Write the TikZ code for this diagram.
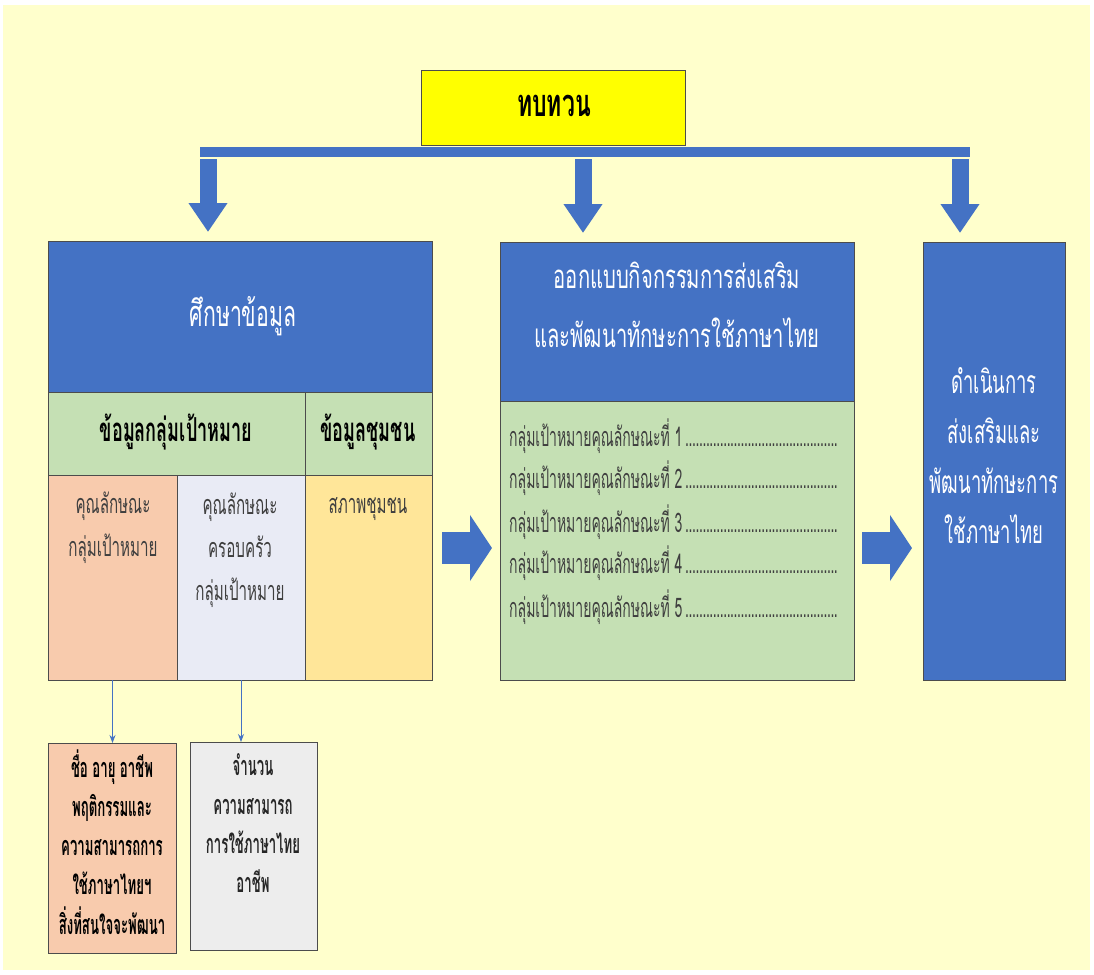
\documentclass[tikz,border=0pt]{standalone}
\usepackage{fontspec}
\usepackage{graphicx}
\setmainfont{Loma}[Script=Thai,FakeStretch=0.72]
\usetikzlibrary{arrows.meta,calc}
\definecolor{bg}{HTML}{FFFFCC}
\definecolor{ylw}{HTML}{FFFF00}
\definecolor{blu}{HTML}{4472C4}
\definecolor{grn}{HTML}{C5E0B4}
\definecolor{pch}{HTML}{F8CBAD}
\definecolor{lav}{HTML}{E9EBF5}
\definecolor{org}{HTML}{FFE699}
\definecolor{gry}{HTML}{EDEDED}
\definecolor{txtg}{HTML}{3F3F3F}
\newcommand\mydots{\leaders\hbox to 4.8pt{\hss.\hss}\hfill}
\newcommand\fs[2]{\fontsize{#1}{#2}\selectfont}
\newcommand\sq[2]{\scalebox{#1}[1]{\begin{tabular}{@{}c@{}}#2\end{tabular}}}
\begin{document}
\begin{tikzpicture}[x=1pt,y=-1pt,
  cell/.style={draw=black!70,line width=1pt,anchor=north west,inner sep=0pt,outer sep=0pt},
  txt/.style={inner sep=0pt},
  bigarrow/.style={draw=blu,line width=17pt,-{Triangle[length=29pt,width=37pt]},shorten >=9pt,shorten <=2pt},
  harrow/.style={draw=blu,line width=32pt,-{Triangle[length=22pt,width=65pt]}},
  thinarrow/.style={draw=blu,line width=0.9pt,-{Stealth[length=8pt,width=6pt]}}]
\useasboundingbox (0,0) rectangle (1094,974);
\fill[bg] (3,5) rectangle (1090,970);
% top
\node[cell,fill=ylw,minimum width=264pt,minimum height=75pt] (rev) at (421,70) {};
\node[cell,draw=none,fill=blu,minimum width=770pt,minimum height=10pt] (bar) at (200,147) {};
% left block
\node[cell,fill=blu,minimum width=384pt,minimum height=151pt] (lhead) at (48,241) {};
\node[cell,fill=grn,minimum width=257pt,minimum height=83pt] (g1) at (48,392) {};
\node[cell,fill=grn,minimum width=127pt,minimum height=83pt] (g2) at (305,392) {};
\node[cell,fill=pch,minimum width=129pt,minimum height=205pt] (c1) at (48,475) {};
\node[cell,fill=lav,minimum width=128pt,minimum height=205pt] (c2) at (177,475) {};
\node[cell,fill=org,minimum width=127pt,minimum height=205pt] (c3) at (305,475) {};
% middle block
\node[cell,fill=blu,minimum width=354pt,minimum height=159pt] (mhead) at (500,242) {};
\node[cell,fill=grn,minimum width=354pt,minimum height=279pt] (mbody) at (500,401) {};
% right block
\node[cell,fill=blu,minimum width=142pt,minimum height=438pt] (rbox) at (923,242) {};
% lower boxes
\node[cell,fill=pch,minimum width=128pt,minimum height=210pt] (lb1) at (48,743) {};
\node[cell,fill=gry,minimum width=127pt,minimum height=208pt] (lb2) at (190,742) {};
% arrows
\coordinate (a1) at (208,0);
\coordinate (a2) at (583,0);
\coordinate (a3) at (960,0);
\coordinate (hm) at (0,548);
\draw[bigarrow] (bar.south -| a1) -- (lhead.north -| a1);
\draw[bigarrow] (bar.south -| a2) -- (mhead.north -| a2);
\draw[bigarrow] (bar.south -| a3) -- (rbox.north -| a3);
\draw[harrow,shorten <=10pt,shorten >=8pt] (c3.east |- hm) -- (mbody.west |- hm);
\draw[harrow,shorten <=8pt,shorten >=11pt] (mbody.east |- hm) -- (rbox.west |- hm);
\draw[thinarrow] (c1.south) -- (c1.south |- lb1.north);
\draw[thinarrow] (c2.south) -- (c2.south |- lb2.north);
% texts
\node[txt,font=\fs{38}{42}\bfseries] (trev) at (554,108) {\sq{0.84}{ทบทวน}};
\node[txt,font=\fs{36}{42},text=white] (tlh) at (243,318) {\sq{0.82}{ศึกษาข้อมูล}};
\node[txt,font=\fs{33}{40}\bfseries] (tg1) at (176,433) {\sq{0.76}{ข้อมูลกลุ่มเป้าหมาย}};
\node[txt,font=\fs{33}{40}\bfseries] (tg2) at (368,433) {\sq{0.76}{ข้อมูลชุมชน}};
\node[txt,font=\fs{27}{43},text=txtg] (tc1) at (113,526) {\sq{0.78}{คุณลักษณะ\\กลุ่มเป้าหมาย}};
\node[txt,font=\fs{27}{43},text=txtg] (tc2) at (240,549) {\sq{0.78}{คุณลักษณะ\\ครอบครัว\\กลุ่มเป้าหมาย}};
\node[txt,font=\fs{27}{43},text=txtg] (tc3) at (368,505) {\sq{0.78}{สภาพชุมชน}};
\node[txt,font=\fs{33}{59},text=white] (tmh) at (677,306) {\sq{0.85}{ออกแบบกิจกรรมการส่งเสริม\\และพัฒนาทักษะการใช้ภาษาไทย}};
\node[txt,font=\fs{32}{50},text=white] (tr) at (994,458) {\sq{0.8}{ดำเนินการ\\ส่งเสริมและ\\พัฒนาทักษะการ\\ใช้ภาษาไทย}};
\node[txt,font=\fs{27}{39}\bfseries] (tlb1) at (112,848) {\sq{0.68}{ชื่อ อายุ อาชีพ\\พฤติกรรมและ\\ความสามารถการ\\ใช้ภาษาไทยฯ\\สิ่งที่สนใจจะพัฒนา}};
\node[txt,font=\fs{27}{39}\bfseries,text=black!85] (tlb2) at (253,826) {\sq{0.68}{จำนวน\\ความสามารถ\\การใช้ภาษาไทย\\อาชีพ}};
\foreach \i/\y in {1/446,2/488,3/532,4/573,5/617}{
  \node[inner sep=0pt,anchor=base west,font=\fs{27}{30},text=txtg] (li\i) at (509,\y) {\scalebox{0.72}[1]{\hbox to 457pt{กลุ่มเป้าหมายคุณลักษณะที่ \i\mydots}}};
}
\end{tikzpicture}
\end{document}
